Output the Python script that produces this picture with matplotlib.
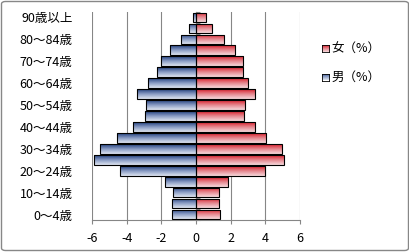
import numpy as np
import matplotlib
matplotlib.use("Agg")
import matplotlib.pyplot as plt
from matplotlib.colors import LinearSegmentedColormap
from matplotlib.patches import FancyBboxPatch

plt.rcParams['font.family'] = ['Noto Sans CJK JP', 'DejaVu Sans']

categories = ["0～4歳", "5～9歳", "10～14歳", "15～19歳", "20～24歳", "25～29歳",
              "30～34歳", "35～39歳", "40～44歳", "45～49歳", "50～54歳", "55～59歳",
              "60～64歳", "65～69歳", "70～74歳", "75～79歳", "80～84歳", "85～89歳",
              "90歳以上"]
male = [-1.40, -1.40, -1.35, -1.81, -4.40, -5.90, -5.56, -4.56, -3.65, -2.96,
        -2.88, -3.42, -2.77, -2.25, -2.02, -1.52, -0.85, -0.40, -0.19]
female = [1.41, 1.35, 1.35, 1.87, 3.98, 5.07, 4.95, 4.04, 3.41, 2.78,
          2.84, 3.41, 3.00, 2.72, 2.72, 2.27, 1.64, 0.90, 0.59]
xticks = [-6, -4, -2, 0, 2, 4, 6]
legend_labels = ["女（%）", "男（%）"]

fig = plt.figure(figsize=(4.10, 2.52), dpi=100)
ax = fig.add_axes([92/410, 1-220/252, 208/410, 208/252])

y = np.arange(len(categories))
h = 0.88
bm = ax.barh(y, male, height=h, facecolor='none', edgecolor='black', linewidth=0.8, zorder=3)
bf = ax.barh(y, female, height=h, facecolor='none', edgecolor='black', linewidth=0.8, zorder=3)

cm_m = LinearSegmentedColormap.from_list('m', ['#dfe5f1', '#8a9cc4', '#23407f'])
cm_f = LinearSegmentedColormap.from_list('f', ['#f7dadd', '#e58890', '#d9202c'])
grad = np.linspace(0, 1, 64).reshape(-1, 1)
for bars, cmap in ((bm, cm_m), (bf, cm_f)):
    for p in bars.patches:
        x0, y0 = p.get_x(), p.get_y()
        w, hh = p.get_width(), p.get_height()
        im = ax.imshow(grad, extent=[x0, x0 + w, y0, y0 + hh], origin='lower',
                       aspect='auto', cmap=cmap, zorder=2, interpolation='bilinear')
        im.set_clip_path(p)

ax.set_xlim(-6, 6)
ax.set_ylim(-0.5, len(categories) - 0.5)
ax.set_xticks(xticks)
ax.set_xticklabels([str(t) for t in xticks], fontsize=9)
ax.set_yticks(y[::2])
ax.set_yticklabels(categories[::2], fontsize=9)
ax.tick_params(axis='y', length=0, pad=14)
ax.tick_params(axis='x', length=3, color='#868686', pad=6)
ax.grid(axis='x', color='#868686', linewidth=0.8, zorder=0)
ax.set_axisbelow(True)
for s in ['top', 'right', 'left']:
    ax.spines[s].set_visible(False)
ax.spines['bottom'].set_color('#868686')
ax.spines['bottom'].set_linewidth(0.8)

sec = ax.secondary_yaxis(0.5)
sec.set_yticks(np.arange(-0.5, len(categories), 1.0))
sec.set_yticklabels([])
sec.tick_params(length=3, color='#868686', width=0.8)
sec.spines['left'].set_color('#868686')
sec.spines['left'].set_linewidth(0.8)

# legend
from matplotlib.patches import Rectangle
for i, (lab, cmap) in enumerate(zip(legend_labels, (cm_f, cm_m))):
    ly = 1 - (49 + 28 * i) / 252
    ax_l = fig.add_axes([322/410, ly - 3.5/252, 7/410, 7/252])
    ax_l.imshow(grad, origin='lower', aspect='auto', cmap=cmap, extent=[0, 1, 0, 1])
    ax_l.set_xticks([]); ax_l.set_yticks([])
    for s in ax_l.spines.values():
        s.set_linewidth(0.6)
    fig.text(331/410, ly, lab, fontsize=9, va='center', ha='left')

fig.patches.append(FancyBboxPatch((1.5/410, 1.5/252), 407/410, 249/252,
                                  boxstyle='round,pad=0,rounding_size=0.01',
                                  transform=fig.transFigure, facecolor='none',
                                  edgecolor='#878787', linewidth=1.0))

fig.savefig('out.png', dpi=100)
